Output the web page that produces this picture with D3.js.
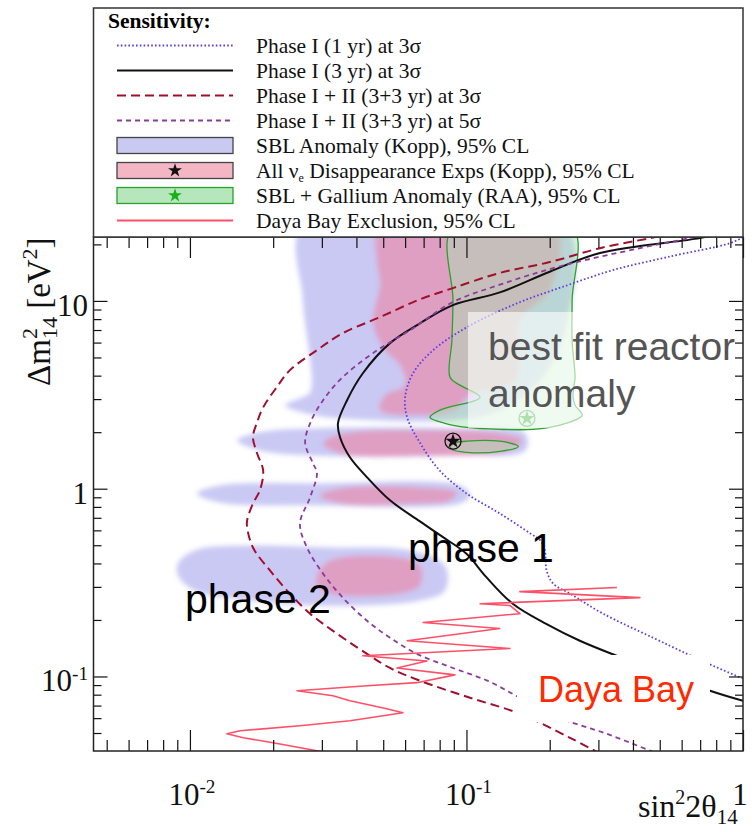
<!DOCTYPE html>
<html>
<head>
<meta charset="utf-8">
<script src="https://cdn.jsdelivr.net/npm/d3@7"></script>
<style>
  body { margin: 0; background: #fff; }
  svg { display: block; }
</style>
</head>
<body>
<svg width="755" height="832"></svg>
<script>
// axis ranges and ticks
const xDomain = [0.00448, 1]
const yDomain = [0.0401, 21.9]
const xMajorTicks = [0.01, 0.1, 1]
const xTickLabels = [['10', '-2'], ['10', '-1'], ['1', '']]
const yMajorTicks = [0.1, 1, 10]
const yTickLabels = [['10', '-1'], ['1', ''], ['10', '']]

// sensitivity curves, [sin^2 2theta, dm^2]
const phase1OneYear = [[1.0, 21.8], [0.897, 20.3], [0.531, 17.1], [0.339, 14.6], [0.231, 12.1], [0.152, 9.7], [0.1005, 7.25], [0.0757, 5.46], [0.0641, 4.12], [0.060, 3.07], [0.061, 2.40], [0.068, 1.75], [0.080, 1.25], [0.100, 0.944], [0.132, 0.738], [0.170, 0.578], [0.185, 0.53], [0.192, 0.469], [0.195, 0.366], [0.206, 0.312], [0.237, 0.276], [0.312, 0.216], [0.472, 0.161], [0.627, 0.132], [0.779, 0.114], [1.0, 0.0975]]
const phase1ThreeYear = [[0.85, 23], [0.698, 21.6], [0.304, 18.0], [0.200, 14.3], [0.132, 11.1], [0.0893, 9.5], [0.0679, 7.6], [0.0529, 5.96], [0.0422, 4.12], [0.0370, 2.96], [0.0343, 2.23], [0.0349, 1.88], [0.0379, 1.47], [0.0437, 1.15], [0.0529, 0.867], [0.0679, 0.670], [0.0815, 0.557], [0.100, 0.45], [0.118, 0.338], [0.147, 0.244], [0.195, 0.19], [0.257, 0.155], [0.349, 0.129], [0.760, 0.084], [1.0, 0.0743]]
const phase12ThreeSigma = [[0.56, 23], [0.461, 21.6], [0.304, 19.1], [0.200, 16.1], [0.132, 14.1], [0.0893, 11.7], [0.0679, 10.2], [0.0487, 8.2], [0.0357, 6.73], [0.0288, 5.47], [0.0230, 4.28], [0.0206, 3.47], [0.0184, 2.71], [0.0175, 2.26], [0.0169, 1.88], [0.0175, 1.54], [0.0184, 1.25], [0.0179, 0.98], [0.0169, 0.835], [0.0161, 0.678], [0.0161, 0.621], [0.0169, 0.486], [0.0195, 0.366], [0.0230, 0.276], [0.0272, 0.216], [0.0329, 0.175], [0.0437, 0.132], [0.0529, 0.111], [0.0679, 0.0949], [0.103, 0.077], [0.156, 0.0633], [0.237, 0.0471], [0.296, 0.0397]]
const phase12FiveSigma = [[0.78, 23], [0.643, 21.6], [0.424, 19.1], [0.218, 15.3], [0.132, 12.2], [0.0893, 9.86], [0.0625, 6.98], [0.0459, 5.27], [0.0357, 3.93], [0.0303, 2.96], [0.0272, 2.23], [0.0261, 1.75], [0.0279, 1.36], [0.0288, 1.21], [0.0272, 0.90], [0.0250, 0.653], [0.0265, 0.486], [0.0303, 0.353], [0.0357, 0.263], [0.0437, 0.198], [0.0529, 0.161], [0.0662, 0.132], [0.0893, 0.111], [0.119, 0.095], [0.156, 0.077], [0.218, 0.060], [0.322, 0.0495], [0.472, 0.0397]]
const dayaBay = [[0.350, 0.298], [0.156, 0.283], [0.424, 0.263], [0.112, 0.244], [0.1435, 0.239], [0.156, 0.216], [0.0697, 0.194], [0.132, 0.180], [0.0610, 0.155], [0.1435, 0.141], [0.0422, 0.129], [0.0720, 0.121], [0.0561, 0.111], [0.0908, 0.102], [0.0662, 0.0927], [0.0437, 0.0893], [0.0244, 0.0840], [0.0329, 0.0790], [0.0379, 0.0743], [0.0515, 0.0673], [0.0589, 0.0641], [0.0379, 0.0581], [0.0250, 0.0547], [0.0152, 0.0514], [0.0136, 0.0495], [0.0156, 0.0472], [0.0200, 0.0444], [0.0313, 0.0393]]

// allowed regions
const sblRegions = [
  [[0.0256, 25], [0.227, 25], [0.227, 6.99], [0.184, 3.78], [0.132, 2.62], [0.0872, 2.31], [0.0487, 2.31], [0.0283, 2.46], [0.0221, 2.78], [0.025, 3.03], [0.0272, 3.26], [0.0256, 10.1]],
  [[0.0148, 1.81], [0.0179, 2.00], [0.0295, 2.10], [0.0872, 2.10], [0.163, 1.97], [0.163, 1.60], [0.0872, 1.50], [0.0295, 1.50], [0.0179, 1.60]],
  [[0.0106, 0.944], [0.0128, 1.041], [0.0295, 1.067], [0.0947, 1.041], [0.103, 0.921], [0.0947, 0.835], [0.0295, 0.815], [0.0128, 0.845]],
  [[0.00905, 0.40], [0.0104, 0.469], [0.0165, 0.498], [0.0321, 0.486], [0.0625, 0.469], [0.0836, 0.39], [0.0836, 0.287], [0.0679, 0.254], [0.0321, 0.238], [0.0165, 0.254], [0.0104, 0.287], [0.00905, 0.345]]
]
const disappearanceRegions = [
  [[0.0487, 25], [0.209, 25], [0.200, 11.4], [0.156, 7.9], [0.150, 3.78], [0.103, 3.15], [0.0909, 2.62], [0.0679, 2.46], [0.0487, 2.62], [0.0507, 3.15], [0.0599, 3.56], [0.0575, 4.55], [0.0507, 5.47], [0.0459, 7.61], [0.0487, 12.4], [0.0475, 15.9]],
  [[0.0303, 1.74], [0.0349, 1.95], [0.0679, 2.05], [0.132, 1.97], [0.159, 1.81], [0.144, 1.60], [0.0679, 1.50], [0.0349, 1.54]],
  [[0.0295, 0.921], [0.0349, 1.004], [0.0679, 1.016], [0.0924, 0.956], [0.0872, 0.866], [0.0679, 0.835], [0.0349, 0.835]],
  [[0.0288, 0.345], [0.0321, 0.415], [0.0575, 0.43], [0.0679, 0.39], [0.0679, 0.305], [0.0575, 0.276], [0.0321, 0.276], [0.0288, 0.305]]
]
const galliumRegions = [
  [[0.0894, 25], [0.0894, 10.1], [0.0886, 6.18], [0.0872, 3.92], [0.0947, 3.56], [0.112, 3.07], [0.0802, 2.62], [0.0738, 2.40], [0.0836, 2.23], [0.100, 2.12], [0.132, 2.07], [0.174, 2.07], [0.218, 2.18], [0.262, 2.46], [0.247, 2.78], [0.243, 3.07], [0.245, 3.56], [0.247, 3.92], [0.241, 6.18], [0.241, 10.1], [0.241, 25]],
  [[0.0872, 1.72], [0.1004, 1.79], [0.132, 1.79], [0.154, 1.68], [0.132, 1.58], [0.1004, 1.56], [0.0886, 1.62]]
]
const bestFitAll = [0.0894, 1.79]
const bestFitRaa = [0.1655, 2.37]

const legendLabels = ['Phase I (1 yr) at 3σ', 'Phase I (3 yr) at 3σ', 'Phase I + II (3+3 yr) at 3σ', 'Phase I + II (3+3 yr) at 5σ', 'SBL Anomaly (Kopp), 95% CL', 'All ν_e Disappearance Exps (Kopp), 95% CL', 'SBL + Gallium Anomaly (RAA), 95% CL', 'Daya Bay Exclusion, 95% CL']

const serif = 'Liberation Serif, Times New Roman, serif'
const sans = 'Liberation Sans, Arial, Helvetica, sans-serif'
const plot = { left: 93.5, right: 743, top: 237, bottom: 751 }

const svg = d3.select('svg')
svg.append('rect').attr('width', 755).attr('height', 832).attr('fill', '#fff')

const x = d3.scaleLog().domain(xDomain).range([plot.left, plot.right])
const y = d3.scaleLog().domain(yDomain).range([plot.bottom, plot.top])

const defs = svg.append('defs')
defs.append('clipPath').attr('id', 'plotClip')
  .append('rect')
  .attr('x', plot.left).attr('y', plot.top)
  .attr('width', plot.right - plot.left).attr('height', plot.bottom - plot.top)
defs.append('filter').attr('id', 'soft')
  .attr('x', '-20%').attr('y', '-20%').attr('width', '140%').attr('height', '140%')
  .append('feGaussianBlur').attr('stdDeviation', 2.5)

const area = d3.line()
  .x(d => x(d[0]))
  .y(d => y(d[1]))
  .curve(d3.curveCatmullRomClosed.alpha(0.5))
const curve = d3.line()
  .x(d => x(d[0]))
  .y(d => y(d[1]))
  .curve(d3.curveCatmullRom.alpha(0.5))
const jagged = d3.line()
  .x(d => x(d[0]))
  .y(d => y(d[1]))

const inner = svg.append('g').attr('clip-path', 'url(#plotClip)')

// shaded regions
const soft = inner.append('g').attr('filter', 'url(#soft)')
soft.selectAll('path.sbl')
  .data(sblRegions)
  .enter().append('path')
  .attr('class', 'sbl')
  .attr('d', area)
  .attr('fill', '#c9c9f4')
soft.selectAll('path.dis')
  .data(disappearanceRegions)
  .enter().append('path')
  .attr('class', 'dis')
  .attr('d', area)
  .attr('fill', '#e78fb0')
  .attr('opacity', 0.72)

inner.selectAll('path.gal')
  .data(galliumRegions)
  .enter().append('path')
  .attr('class', 'gal')
  .attr('d', area)
  .attr('fill', 'rgba(168,228,176,0.45)')
  .attr('stroke', '#2ca02c')
  .attr('stroke-width', 1.3)

// sensitivity curves
const curveStyles = [
  { data: phase1OneYear, stroke: '#5b3ee0', width: 1.8, dash: '1.6,2.2' },
  { data: phase1ThreeYear, stroke: '#111', width: 2, dash: null },
  { data: phase12ThreeSigma, stroke: '#a0102e', width: 2, dash: '9,5' },
  { data: phase12FiveSigma, stroke: '#8a3c9c', width: 1.8, dash: '5,4' }
]
inner.selectAll('path.sens')
  .data(curveStyles)
  .enter().append('path')
  .attr('class', 'sens')
  .attr('d', d => curve(d.data))
  .attr('fill', 'none')
  .attr('stroke', d => d.stroke)
  .attr('stroke-width', d => d.width)
  .attr('stroke-dasharray', d => d.dash)

inner.append('path')
  .attr('d', jagged(dayaBay))
  .attr('fill', 'none')
  .attr('stroke', '#ff5068')
  .attr('stroke-width', 1.6)
  .attr('stroke-linejoin', 'round')

// best fit markers
const star = d3.symbol().type(d3.symbolStar)
function marker(p, fill, ring, size) {
  const g = inner.append('g').attr('transform', `translate(${x(p[0])},${y(p[1])})`)
  g.append('circle').attr('r', 8).attr('fill', 'none').attr('stroke', ring).attr('stroke-width', 1.3)
  g.append('path').attr('d', star.size(size)()).attr('fill', fill)
}
marker(bestFitAll, '#111', '#111', 70)
marker(bestFitRaa, '#39b039', '#39b039', 70)

// annotations
inner.append('rect')
  .attr('x', 468).attr('y', 312).attr('width', 290).attr('height', 116)
  .attr('fill', '#fff').attr('opacity', 0.6)
const bf = inner.append('text')
  .attr('font-family', sans).attr('font-size', 39).attr('fill', '#555')
bf.append('tspan').attr('x', 488).attr('y', 360).text('best fit reactor')
bf.append('tspan').attr('x', 488).attr('y', 407).text('anomaly')

inner.append('rect')
  .attr('x', 517).attr('y', 655).attr('width', 193).attr('height', 67)
  .attr('rx', 4)
  .attr('fill', '#fff')
inner.append('text')
  .attr('x', 538).attr('y', 702)
  .attr('font-family', sans).attr('font-size', 36).attr('fill', '#ff2a00')
  .text('Daya Bay')

inner.append('text')
  .attr('x', 408).attr('y', 562)
  .attr('font-family', sans).attr('font-size', 41).attr('fill', '#000')
  .text('phase 1')
inner.append('text')
  .attr('x', 185).attr('y', 613)
  .attr('font-family', sans).attr('font-size', 41).attr('fill', '#000')
  .text('phase 2')

// axes
const isMajor = v => Math.abs(Math.log10(v) - Math.round(Math.log10(v))) < 1e-6
const xMinor = x.ticks().filter(v => !isMajor(v))
const yMinor = y.ticks().filter(v => !isMajor(v))

function drawTicks(axis, ticks, size, transform) {
  svg.append('g')
    .attr('transform', transform)
    .call(axis.tickValues(ticks).tickSize(size).tickFormat(''))
    .call(g => g.select('.domain').remove())
    .selectAll('line')
    .attr('stroke', '#111')
    .attr('stroke-width', 1.2)
}
drawTicks(d3.axisBottom(x), xMinor, -11, `translate(0,${plot.bottom})`)
drawTicks(d3.axisBottom(x), xMajorTicks, -21, `translate(0,${plot.bottom})`)
drawTicks(d3.axisTop(x), xMinor, -11, `translate(0,${plot.top})`)
drawTicks(d3.axisTop(x), xMajorTicks, -21, `translate(0,${plot.top})`)
drawTicks(d3.axisLeft(y), yMinor, -8, `translate(${plot.left},0)`)
drawTicks(d3.axisLeft(y), yMajorTicks, -14, `translate(${plot.left},0)`)
drawTicks(d3.axisRight(y), yMinor, -8, `translate(${plot.right},0)`)
drawTicks(d3.axisRight(y), yMajorTicks, -14, `translate(${plot.right},0)`)

svg.append('rect')
  .attr('x', plot.left).attr('y', plot.top)
  .attr('width', plot.right - plot.left).attr('height', plot.bottom - plot.top)
  .attr('fill', 'none').attr('stroke', '#222').attr('stroke-width', 1.5)

function powLabel(sel, label, fs) {
  sel.append('tspan').text(label[0])
  if (label[1]) sel.append('tspan').attr('dy', -fs * 0.38).attr('font-size', fs * 0.62).text(label[1])
}
xMajorTicks.forEach((v, i) => {
  const t = svg.append('text')
    .attr('x', Math.min(x(v) + 2, 740)).attr('y', 805)
    .attr('text-anchor', 'middle')
    .attr('font-family', serif).attr('font-size', 31).attr('fill', '#111')
  powLabel(t, xTickLabels[i], 31)
})
yMajorTicks.forEach((v, i) => {
  const t = svg.append('text')
    .attr('x', 88).attr('y', y(v) + 15)
    .attr('text-anchor', 'end')
    .attr('font-family', serif).attr('font-size', 31).attr('fill', '#111')
  powLabel(t, yTickLabels[i], 31)
})

// axis titles
const xt = svg.append('text')
  .attr('x', 638).attr('y', 817)
  .attr('font-family', serif).attr('font-size', 32).attr('fill', '#111')
xt.append('tspan').text('sin')
xt.append('tspan').attr('dy', -13).attr('font-size', 20).text('2')
xt.append('tspan').attr('dy', 13).text('2θ')
xt.append('tspan').attr('dy', 7).attr('font-size', 21).text('14')

const yt = svg.append('text')
  .attr('transform', 'translate(50,386) rotate(-90)')
  .attr('font-family', serif).attr('font-size', 33).attr('fill', '#111')
yt.append('tspan').text('Δm')
yt.append('tspan').attr('dy', -13).attr('font-size', 22).text('2')
yt.append('tspan').attr('dx', -11).attr('dy', 20).attr('font-size', 22).text('14')
yt.append('tspan').attr('dy', -7).text(' [eV')
yt.append('tspan').attr('dy', -13).attr('font-size', 22).text('2')
yt.append('tspan').attr('dy', 13).text(']')

// legend
const legend = svg.append('g')
legend.append('rect')
  .attr('x', plot.left).attr('y', 8)
  .attr('width', plot.right - plot.left).attr('height', plot.top - 8)
  .attr('fill', '#fff').attr('stroke', '#333').attr('stroke-width', 1.5)
legend.append('text')
  .attr('x', 108).attr('y', 28)
  .attr('font-family', serif).attr('font-size', 21.5).attr('font-weight', 'bold')
  .text('Sensitivity:')

const rowY = i => 45.5 + 25 * i
const sampleX0 = 117, sampleX1 = 233
curveStyles.forEach((c, i) => {
  legend.append('line')
    .attr('x1', sampleX0).attr('x2', sampleX1)
    .attr('y1', rowY(i)).attr('y2', rowY(i))
    .attr('stroke', c.stroke).attr('stroke-width', c.width)
    .attr('stroke-dasharray', c.dash)
})
const boxStyles = [
  { fill: '#c9c9f2', stroke: '#444', star: null },
  { fill: '#f4b6c4', stroke: '#444', star: '#111' },
  { fill: '#b6e6bc', stroke: '#2ca02c', star: '#18b018' }
]
boxStyles.forEach((b, j) => {
  const i = j + 4
  legend.append('rect')
    .attr('x', sampleX0).attr('y', rowY(i) - 8)
    .attr('width', sampleX1 - sampleX0).attr('height', 16)
    .attr('fill', b.fill).attr('stroke', b.stroke).attr('stroke-width', 1.3)
  if (b.star) {
    legend.append('path')
      .attr('transform', `translate(175,${rowY(i)})`)
      .attr('d', star.size(60)())
      .attr('fill', b.star)
  }
})
legend.append('line')
  .attr('x1', sampleX0).attr('x2', sampleX1)
  .attr('y1', rowY(7)).attr('y2', rowY(7))
  .attr('stroke', '#ff5068').attr('stroke-width', 2)

legendLabels.forEach((label, i) => {
  const t = legend.append('text')
    .attr('x', 256).attr('y', rowY(i) + 7)
    .attr('font-family', serif).attr('font-size', 21.5).attr('fill', '#111')
  const parts = label.split('_e')
  if (parts.length > 1) {
    t.append('tspan').text(parts[0])
    t.append('tspan').attr('dy', 4).attr('font-size', 12).text('e')
    t.append('tspan').attr('dy', -4).text(parts[1])
  } else {
    t.text(label)
  }
})
</script>
</body>
</html>
